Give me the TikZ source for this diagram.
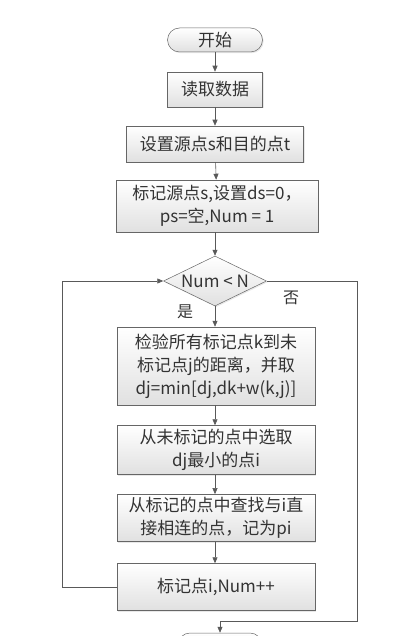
\documentclass[tikz,border=0pt]{standalone}
\usepackage{fontspec}
\setmainfont{Noto Sans CJK SC}
\usepackage{tikz}
\usetikzlibrary{arrows.meta,positioning,shapes.geometric,shadows}
\tikzset{
  flow-line/.style={draw=black!65, line width=0.6pt},
  flow-box/.style={draw=black!60, top color=white, bottom color=black!12, line width=0.5pt,
    align=center, inner sep=3pt, text=black!80, font=\fontsize{17}{23}\selectfont,
    drop shadow={opacity=0.18, shadow xshift=1.2pt, shadow yshift=-1.2pt}},
  flow-term/.style={flow-box, rounded corners=12pt, minimum height=24pt},
  flow-test/.style={flow-box, diamond, aspect=2.06, inner sep=1pt, minimum width=103pt, minimum height=50pt},
  flow-label/.style={font=\fontsize{16}{20}\selectfont, text=black!80}
}

\begin{document}
\begin{tikzpicture}[x=1pt, y=-1pt, >={Triangle[length=6pt,width=5pt]}]
  \useasboundingbox (0,0) rectangle (409,636);
  % main column
  \node[flow-term, minimum width=95pt] (start) at (215,40) {开始};
  \node[flow-box, minimum width=95pt, minimum height=35pt] (read) at (215,89.5) {读取数据};
  \node[flow-box, minimum width=177pt, minimum height=36pt] (setst) at (215,144) {设置源点s和目的点t};
  \node[flow-box, minimum width=202pt, minimum height=52pt] (mark) at (217,206) {标记源点s,设置ds=0，\\ps=空,Num = 1};
  \node[flow-test] (test) at (215,281) {Num < N};
  \node[flow-box, minimum width=198pt, minimum height=78pt] (check) at (216,366)
    {检验所有标记点k到未\\标记点j的距离，并取\\dj=min[dj,dk+w(k,j)]};
  \node[flow-box, minimum width=198pt, minimum height=49pt] (pick) at (216,450) {从未标记的点中选取\\dj最小的点i};
  \node[flow-box, minimum width=198pt, minimum height=47pt] (find) at (216,518) {从标记的点中查找与i直\\接相连的点，记为pi};
  \node[flow-box, minimum width=198pt, minimum height=47pt] (update) at (216,587) {标记点i,Num++};
  \node[flow-term, minimum width=84pt] (stop) at (220,645) {};
  \node[flow-label] (yes) at (185,312) {是};
  \node[flow-label] (no) at (291,298) {否};
  \coordinate (noturn) at (357,621);
  % connectors
  \draw[flow-line, ->] (start) -- (read);
  \draw[flow-line, ->] (read) -- (setst);
  \draw[flow-line, ->] (setst) -- (mark);
  \draw[flow-line, ->] (mark.south -| test.north) -- (test.north);
  \draw[flow-line, ->] (test.south) -- (check.north -| test.south);
  \draw[flow-line, ->] (check.south -| test.south) -- (pick.north -| test.south);
  \draw[flow-line, ->] (pick.south -| test.south) -- (find.north -| test.south);
  \draw[flow-line, ->] (find.south -| test.south) -- (update.north -| test.south);
  \draw[flow-line, ->] (update.west) -- ++(-54,0) |- (test.west);
  \draw[flow-line, ->] (test.east) -| (noturn) -| (stop.north);
\end{tikzpicture}
\end{document}
